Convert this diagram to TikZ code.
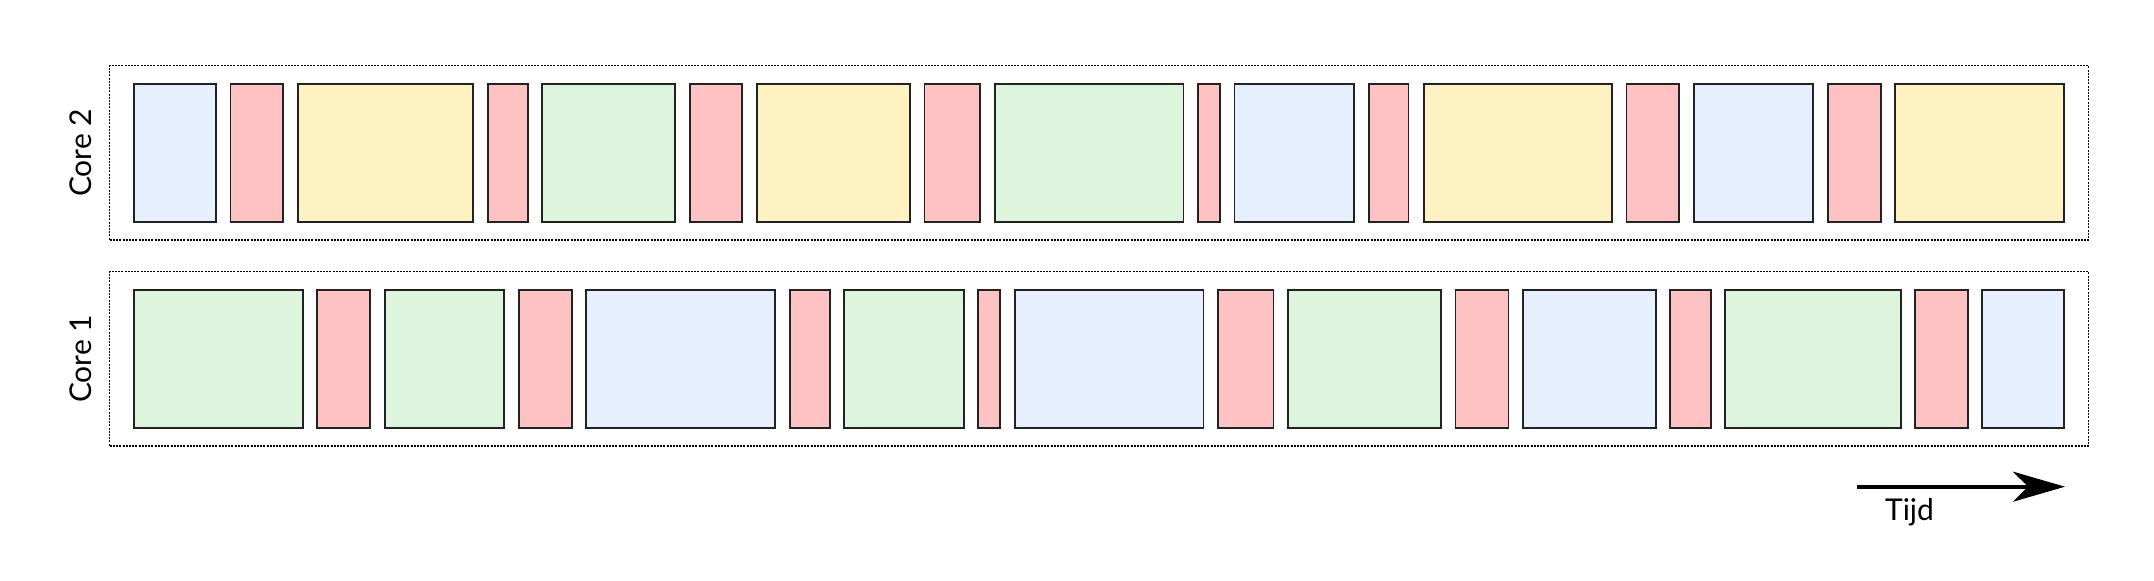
\documentclass[tikz,border=0pt]{standalone}
\usepackage{fontspec}
\setmainfont{Lato}
\usetikzlibrary{arrows.meta}
\definecolor{cblue}{HTML}{E6EFFE}
\definecolor{cred}{HTML}{FEC2C2}
\definecolor{cyellow}{HTML}{FEF2C2}
\definecolor{cgreen}{HTML}{DDF5DD}
\definecolor{cline}{HTML}{222222}
\tikzset{
  blk/.style={draw=cline, line width=0.95pt, rectangle, inner sep=0pt, outer sep=0pt, minimum height=69.3pt},
  lane/.style={draw=black, line width=0.6pt, dash pattern=on 1pt off 0.6pt, rectangle, inner sep=0pt, outer sep=0pt},
  lbl/.style={font=\fontsize{15pt}{18pt}\selectfont, text=black, inner sep=0pt},
  timearrow/.style={line width=2pt, -{Stealth[length=26pt, width=15pt, inset=7.5pt]}}
}
\begin{document}
\begin{tikzpicture}[x=0.5pt,y=-0.5pt]
\useasboundingbox (0,0) rectangle (2154,581);
% lanes
\node[lane, minimum width={(2088.6-109.7)*0.5pt}, minimum height={(240-65.7)*0.5pt}] (lane2) at ({(109.7+2088.6)/2},{(65.7+240)/2}) {};
\node[lane, minimum width={(2088.6-109.7)*0.5pt}, minimum height={(446-271.7)*0.5pt}] (lane1) at ({(109.7+2088.6)/2},{(271.7+446)/2}) {};
% labels
\node[lbl, rotate=90] (core2) at (80.4,153) {Core 2};
\node[lbl, rotate=90] (core1) at (80.4,359) {Core 1};
% core 2 blocks
\foreach \a/\b/\c [count=\i] in {
134.1/216.3/cblue, 230.5/282.9/cred, 298/473/cyellow, 487.6/528.1/cred,
542.3/675.4/cgreen, 689.7/742.2/cred, 756.9/910.3/cyellow, 924.5/980.3/cred,
994.8/1183.5/cgreen, 1198.2/1220.3/cred, 1234.5/1354/cblue, 1368.6/1408.5/cred,
1423.6/1612/cyellow, 1626.5/1679.2/cred, 1693.8/1813.4/cblue, 1828.2/1880.8/cred,
1895.4/2064.3/cyellow}
  \node[blk, fill=\c, minimum width={(\b-\a)*0.5pt}] (ctwo\i) at ({(\a+\b)/2},153) {};
% core 1 blocks
\foreach \a/\b/\c [count=\i] in {
134.1/302.8/cgreen, 317.2/370.2/cred, 384.7/504.4/cgreen, 518.9/571.9/cred,
586.4/775.1/cblue, 789.6/829.9/cred, 844/963.8/cgreen, 978.2/1000.2/cred,
1014.7/1203.5/cblue, 1218.2/1273.5/cred, 1287.6/1441/cgreen, 1455.5/1508.5/cred,
1523.1/1655.6/cblue, 1670.2/1710.6/cred, 1725/1900.6/cgreen, 1915.1/1967.8/cred,
1982.3/2064.3/cblue}
  \node[blk, fill=\c, minimum width={(\b-\a)*0.5pt}] (cone\i) at ({(\a+\b)/2},359) {};
% time arrow
\coordinate (t0) at (1856.7,486.7);
\coordinate (t1) at (2065,486.7);
\draw[timearrow] (t0) -- (t1);
\node[lbl, anchor=base] (tijd) at (1909.5,521) {Tijd};
\end{tikzpicture}
\end{document}
